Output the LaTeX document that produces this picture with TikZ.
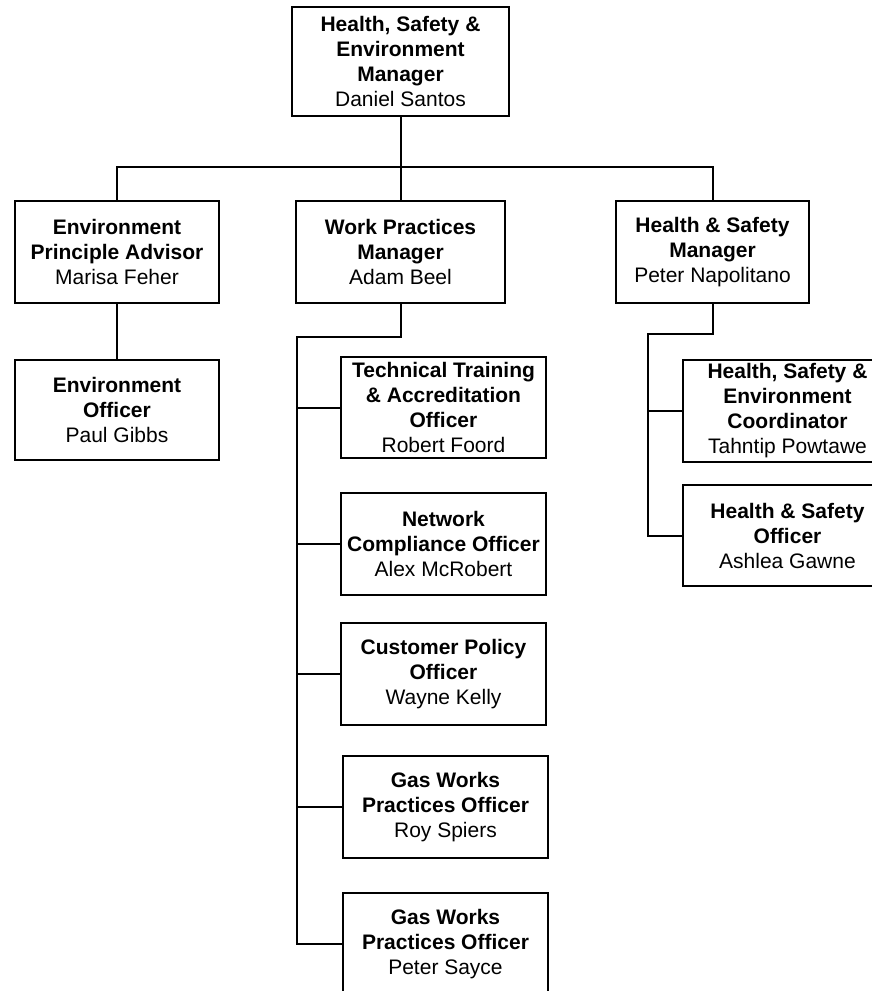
\documentclass[tikz,border=0pt]{standalone}
\usepackage{fontspec}
\setmainfont{Liberation Sans}
\begin{document}
\begin{tikzpicture}[x=1pt,y=-1pt,
  box/.style={draw, line width=1.8pt, align=center, inner sep=1pt,
    font=\fontsize{21}{25}\selectfont},
  wire/.style={line width=2pt, line cap=rect}]
\useasboundingbox (0,0) rectangle (871,991);

% Senior manager
\node[box, minimum width=217, minimum height=109] (hse) at (400.5,61.5)
  {\textbf{Health, Safety \&}\\\textbf{Environment}\\\textbf{Manager}\\Daniel Santos};

% Second tier
\node[box, minimum width=204, minimum height=102] (epa) at (117,252)
  {\textbf{Environment}\\\textbf{Principle Advisor}\\Marisa Feher};
\node[box, minimum width=209, minimum height=102] (wpm) at (400.5,252)
  {\textbf{Work Practices}\\\textbf{Manager}\\Adam Beel};
\node[box, minimum width=193, minimum height=102] (hsm) at (712.5,252)
  {\textbf{Health \& Safety}\\\textbf{Manager}\\Peter Napolitano};

% Environment team
\node[box, minimum width=204, minimum height=100] (eo) at (117,410)
  {\textbf{Environment}\\\textbf{Officer}\\Paul Gibbs};

% Work practices team
\node[box, minimum width=205, minimum height=101] (tt) at (443.5,407.5)
  {\textbf{Technical Training}\\\textbf{\& Accreditation}\\\textbf{Officer}\\Robert Foord};
\node[box, minimum width=205, minimum height=102] (nc) at (443.5,544)
  {\textbf{Network}\\\textbf{Compliance Officer}\\Alex McRobert};
\node[box, minimum width=205, minimum height=102] (cp) at (443.5,674)
  {\textbf{Customer Policy}\\\textbf{Officer}\\Wayne Kelly};
\node[box, minimum width=205, minimum height=102] (gwa) at (445.5,807)
  {\textbf{Gas Works}\\\textbf{Practices Officer}\\Roy Spiers};
\node[box, minimum width=205, minimum height=102] (gwb) at (445.5,944)
  {\textbf{Gas Works}\\\textbf{Practices Officer}\\Peter Sayce};

% Health and safety team
\node[box, minimum width=209, minimum height=102] (hsec) at (787.5,411)
  {\textbf{Health, Safety \&}\\\textbf{Environment}\\\textbf{Coordinator}\\Tahntip Powtawe};
\node[box, minimum width=209, minimum height=101] (hso) at (787.5,535.5)
  {\textbf{Health \& Safety}\\\textbf{Officer}\\Ashlea Gawne};

% Connectors
\coordinate (bus) at (400,167);
\coordinate (wpmturn) at (297,337);
\coordinate (hsmturn) at (648,334);

\draw[wire] (hse.south) -- (hse.south |- bus);
\draw[wire] (epa.north) -- (epa.north |- bus) -- (hsm.north |- bus) -- (hsm.north);
\draw[wire] (wpm.north |- bus) -- (wpm.north);
\draw[wire] (epa.south) -- (eo.north);

\draw[wire] (wpm.south) -- (wpm.south |- wpmturn) -- (wpmturn) -- (wpmturn |- gwb.west);
\foreach \n in {tt,nc,cp,gwa,gwb}
  \draw[wire] (wpmturn |- \n.west) -- (\n.west);

\draw[wire] (hsm.south) -- (hsm.south |- hsmturn) -- (hsmturn) -- (hsmturn |- hso.west);
\foreach \n in {hsec,hso}
  \draw[wire] (hsmturn |- \n.west) -- (\n.west);
\end{tikzpicture}
\end{document}
